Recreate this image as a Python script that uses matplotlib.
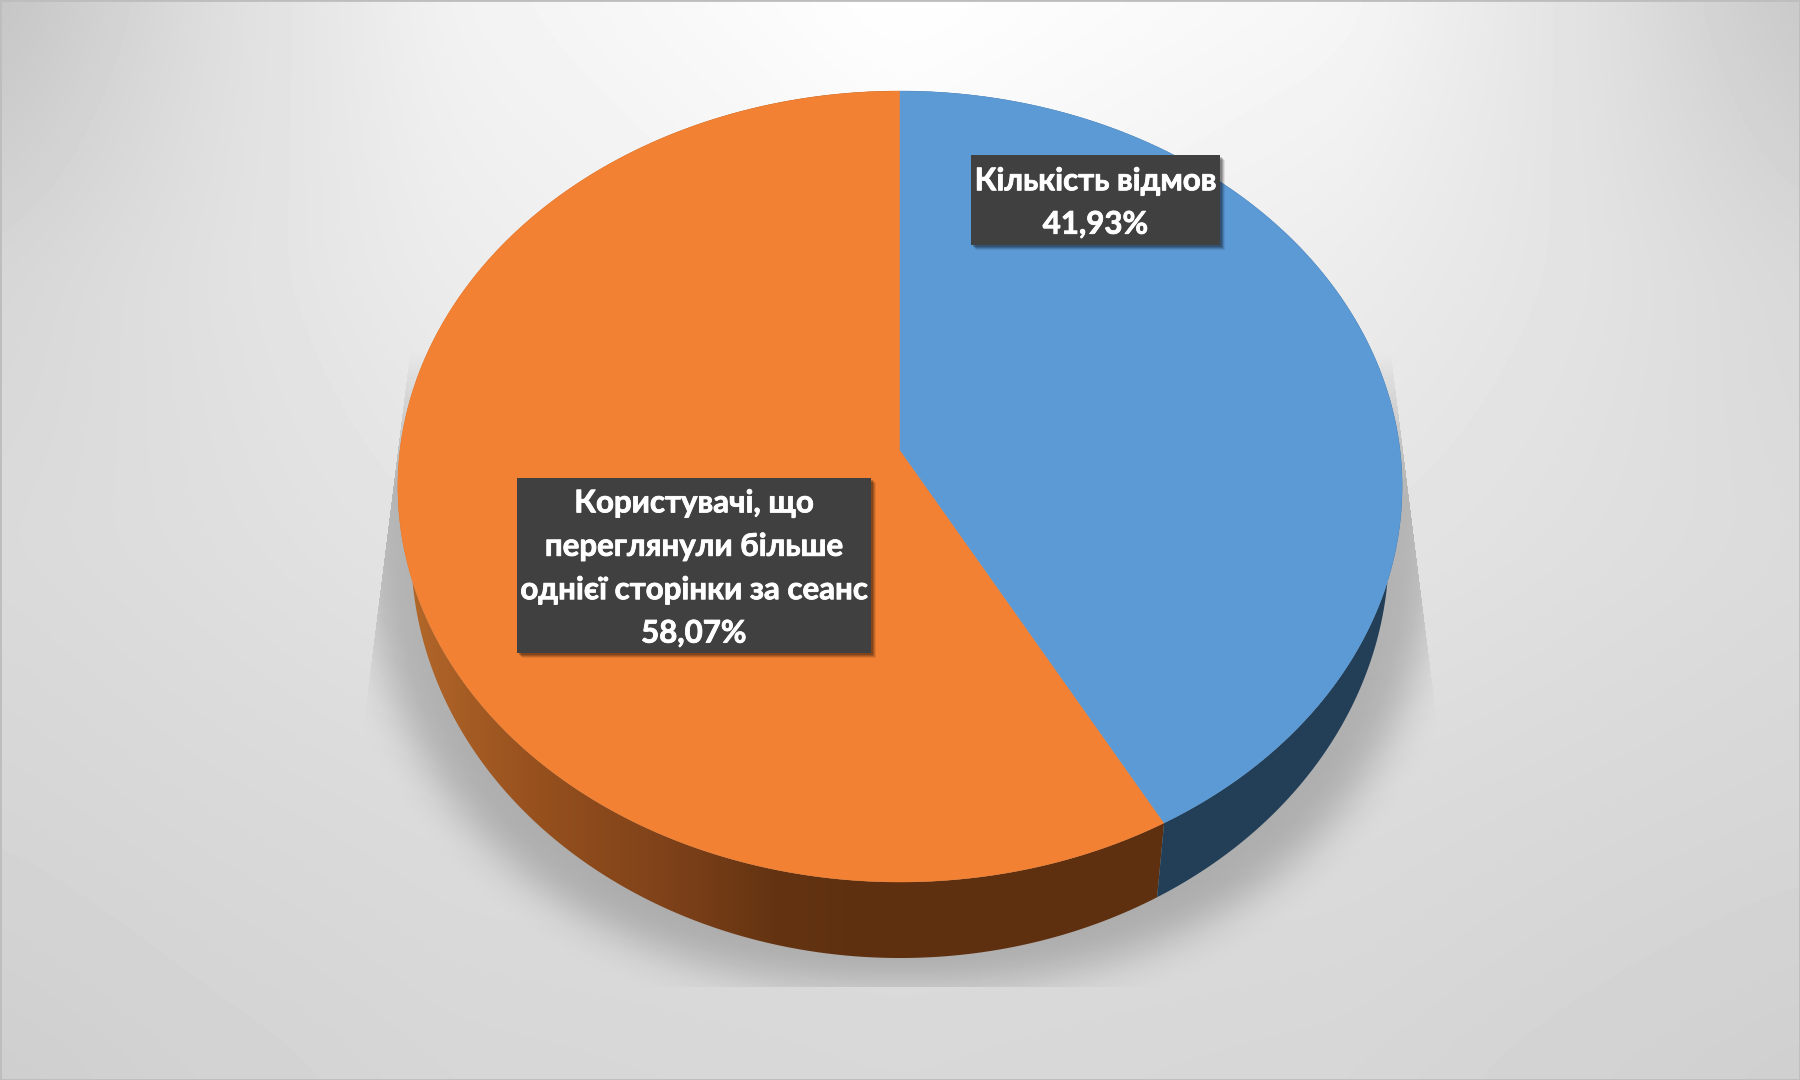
"""3D-looking pie chart: bounce share vs. multi-page sessions."""
import numpy as np
import matplotlib
matplotlib.use('Agg')
import matplotlib.pyplot as plt
import matplotlib.patheffects as pe
from matplotlib.patches import Polygon, Rectangle

labels = ['Кількість відмов', 'Користувачі, що\nпереглянули більше\nоднієї сторінки за сеанс']
shares = [41.93, 58.07]
value_texts = ['41,93%', '58,07%']
top_colors = ['#5C9AD6', '#F28133']

# perspective of the top face
CX, RX = 900, 500
A, B, C = 350.6, 450, -0.0923
RIM_SCALE = 0.9735

plt.rcParams['font.family'] = ['Lato', 'Open Sans', 'DejaVu Sans']


def top_xy(theta):
    u, v = np.sin(theta), -np.cos(theta)
    d = 1 + C * v
    return CX + RX * u / d, (A * v + B) / d


def bottom_xy(theta):
    x, y = top_xy(theta)
    return CX + (x - CX) * RIM_SCALE, y + 63 - 13 * np.cos(theta)


def blur(img, sigma):
    r = int(3 * sigma)
    k = np.exp(-0.5 * (np.arange(-r, r + 1) / sigma) ** 2)
    k /= k.sum()
    pad = np.pad(img, r, mode='edge')
    out = np.apply_along_axis(lambda m: np.convolve(m, k, mode='same'), 0, pad)
    out = np.apply_along_axis(lambda m: np.convolve(m, k, mode='same'), 1, out)
    return out[r:-r, r:-r]


fig = plt.figure(figsize=(18, 10.8), dpi=100)
ax = fig.add_axes([0, 0, 1, 1])
ax.axis('off')

# background
yy, xx = np.mgrid[0:1080, 0:1800]
bg_x = [0, 200, 450, 900, 1350, 1600, 1800]
bg_y = [0, 270, 540, 810, 1080]
bg_grid = np.array([
    [0xC4, 0xDC, 0xF2, 0xFF, 0xF6, 0xE0, 0xC8],
    [0xD6, 0xE0, 0xEC, 0xF6, 0xEC, 0xE2, 0xD8],
    [0xDA, 0xDE, 0xE4, 0xE8, 0xE4, 0xDF, 0xDB],
    [0xD5, 0xD8, 0xDB, 0xDC, 0xDB, 0xD8, 0xD6],
    [0xCE, 0xD2, 0xD6, 0xD8, 0xD6, 0xD2, 0xCF],
]) / 255
rows = np.array([np.interp(np.arange(1800), bg_x, r) for r in bg_grid])
bg = np.array([np.interp(np.arange(1080), bg_y, rows[:, i]) for i in range(1800)]).T
bg = blur(bg, 30)
ax.imshow(bg, cmap='gray', vmin=0, vmax=1, extent=(0, 1800, 1080, 0), aspect='auto',
          interpolation='bilinear', zorder=0)

# shadow under the pie
dx = np.abs(xx - CX) / 540
dy = np.where(yy > 480, (yy - 480) / 505, 0)
shape = blur(((dx ** 2.3 + dy ** 2.3) < 1).astype(float), 20)
side = 493 + (yy - 373) * 0.125
mask = (np.abs(xx - CX) < side) & (yy < 987)
ramp = np.clip((yy - 350) / 130, 0, 1)
shadow = np.zeros((1080, 1800, 4))
shadow[..., 3] = 0.21 * shape * mask * ramp
ax.imshow(shadow, extent=(0, 1800, 1080, 0), aspect='auto', interpolation='nearest', zorder=1)

# slices: angles come from the shares, clockwise from 12 o'clock
edges = np.radians(np.cumsum([0] + shares) * 3.6)

# rim of the orange slice gets a left-to-right gradient
grad_x = [400, 423, 540, 673, 773, 860, 1200]
grad_r = [180, 175, 150, 125, 100, 95, 95]
grad_g = [104, 100, 80, 65, 52, 48, 48]
grad_b = [42, 40, 30, 25, 18, 16, 16]
xs = np.arange(1800)
grad = np.stack([np.interp(xs, grad_x, c) for c in (grad_r, grad_g, grad_b)], axis=1)[None, :, :] / 255

for i in [1, 0]:
    t = np.linspace(edges[i], edges[i + 1], 400)
    tx, ty = top_xy(t)
    bx, by = bottom_xy(t)
    rim = Polygon(np.r_[np.c_[tx, ty], np.c_[bx, by][::-1]], closed=True,
                  facecolor='#223F57', edgecolor='none', zorder=2)
    ax.add_patch(rim)
    if i == 1:
        rim.set_facecolor('none')
        im = ax.imshow(grad, extent=(0, 1800, 1080, 0), aspect='auto', zorder=2)
        im.set_clip_path(rim)

apex = (CX, B)
for i in [1, 0]:
    t = np.linspace(edges[i], edges[i + 1], 400)
    tx, ty = top_xy(t)
    ax.add_patch(Polygon(np.r_[[apex], np.c_[tx, ty]], closed=True, facecolor=top_colors[i],
                         edgecolor=top_colors[i], linewidth=0.3, zorder=3))

# data labels
boxes = [(971, 155, 249, 90), (517, 478, 354, 175)]
for label, val, (x, y, w, h) in zip(labels, value_texts, boxes):
    for off, a in [(5, 0.08), (4, 0.12), (3, 0.16), (2, 0.2)]:
        ax.add_patch(Rectangle((x + off, y + off), w, h, facecolor='black', alpha=a, edgecolor='none', zorder=4))
    ax.add_patch(Rectangle((x, y), w, h, facecolor='#404040', edgecolor='none', zorder=5))
    ax.text(x + w / 2, y + h / 2 + 3, label + '\n' + val, color='white', fontsize=22.5, fontweight='bold',
            ha='center', va='center', linespacing=1.67, zorder=6,
            path_effects=[pe.withStroke(linewidth=0.6, foreground='white')])

ax.add_patch(Rectangle((0, 0), 1800, 1080, facecolor='none', edgecolor='#BDBDBD', linewidth=2, zorder=7))
ax.set_xlim(0, 1800)
ax.set_ylim(1080, 0)

fig.savefig('out.png', dpi=100)
